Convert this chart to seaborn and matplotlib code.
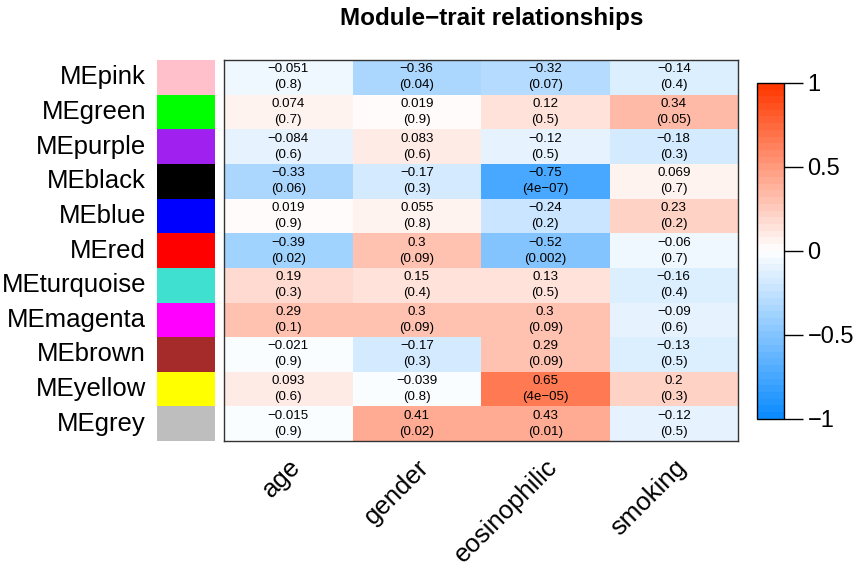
import numpy as np
import seaborn as sns
import matplotlib.pyplot as plt
from matplotlib.colors import LinearSegmentedColormap, ListedColormap

modules = ["MEpink", "MEgreen", "MEpurple", "MEblack", "MEblue", "MEred",
           "MEturquoise", "MEmagenta", "MEbrown", "MEyellow", "MEgrey"]
module_colors = ["#FFC0CB", "#00FF00", "#A020F0", "#000000", "#0000FF", "#FF0000",
                 "#40E0D0", "#FF00FF", "#A52A2A", "#FFFF00", "#BEBEBE"]
traits = ["age", "gender", "eosinophilic", "smoking"]

cor = np.array([
    [-0.051, -0.36, -0.32, -0.14],
    [0.074, 0.019, 0.12, 0.34],
    [-0.084, 0.083, -0.12, -0.18],
    [-0.33, -0.17, -0.75, 0.069],
    [0.019, 0.055, -0.24, 0.23],
    [-0.39, 0.3, -0.52, -0.06],
    [0.19, 0.15, 0.13, -0.16],
    [0.29, 0.3, 0.3, -0.09],
    [-0.021, -0.17, 0.29, -0.13],
    [0.093, -0.039, 0.65, 0.2],
    [-0.015, 0.41, 0.43, -0.12],
])
pvals = [
    ["0.8", "0.04", "0.07", "0.4"],
    ["0.7", "0.9", "0.5", "0.05"],
    ["0.6", "0.6", "0.5", "0.3"],
    ["0.06", "0.3", "4e\u221207", "0.7"],
    ["0.9", "0.8", "0.2", "0.2"],
    ["0.02", "0.09", "0.002", "0.7"],
    ["0.3", "0.4", "0.5", "0.4"],
    ["0.1", "0.09", "0.09", "0.6"],
    ["0.9", "0.3", "0.09", "0.5"],
    ["0.6", "0.8", "4e\u221205", "0.3"],
    ["0.9", "0.02", "0.01", "0.5"],
]

plt.rcParams["font.family"] = ["Liberation Sans", "DejaVu Sans"]

# cell text: correlation on top, p-value below
annot = np.array([[f"{c:g}".replace("-", "\u2212") + f"\n({p})"
                   for c, p in zip(crow, prow)] for crow, prow in zip(cor, pvals)])

# WGCNA-like blueWhiteRed palette
cmap = LinearSegmentedColormap.from_list(
    "bwr_wgcna", [(0.05, 0.55, 1.0), (1, 1, 1), (1.0, 0.22, 0.0)], N=50)

fig = plt.figure(figsize=(8.65, 5.66), dpi=100)
ax = fig.add_axes([0.259, 0.2208, 0.5942, 0.673])
ax_mod = fig.add_axes([0.1815, 0.2208, 0.067, 0.673])
cax = fig.add_axes([0.875, 0.26, 0.0312, 0.5936])

sns.heatmap(cor, ax=ax, cmap=cmap, vmin=-1, vmax=1, annot=annot, fmt="",
            annot_kws={"fontsize": 9.6, "color": "black", "linespacing": 1.45},
            cbar_ax=cax, xticklabels=traits, yticklabels=False)
for sp in ax.spines.values():
    sp.set_visible(True)
    sp.set_linewidth(1.0)
    sp.set_color("#333333")
ax.set_xticklabels(traits, rotation=45, ha="right", rotation_mode="anchor",
                   fontsize=18.5)
ax.tick_params(axis="x", length=0, pad=10)

sns.heatmap(np.arange(len(modules)).reshape(-1, 1), ax=ax_mod,
            cmap=ListedColormap(module_colors), cbar=False,
            xticklabels=False, yticklabels=modules)
ax_mod.set_yticklabels(modules, rotation=0, fontsize=18.5)
ax_mod.tick_params(axis="y", length=0, pad=8)

cb = ax.collections[0].colorbar
cb.set_ticks([-1, -0.5, 0, 0.5, 1])
cb.set_ticklabels(["\u22121", "\u22120.5", "0", "0.5", "1"])
cb.outline.set_visible(True)
cb.outline.set_linewidth(1.0)
cb.outline.set_edgecolor("black")
cax.tick_params(length=14, width=1, labelsize=17, pad=3)

fig.text(0.569, 0.968, "Module\u2212trait relationships", ha="center", va="center",
         fontsize=17.5, fontweight="bold")

plt.savefig("out.png", dpi=100)
